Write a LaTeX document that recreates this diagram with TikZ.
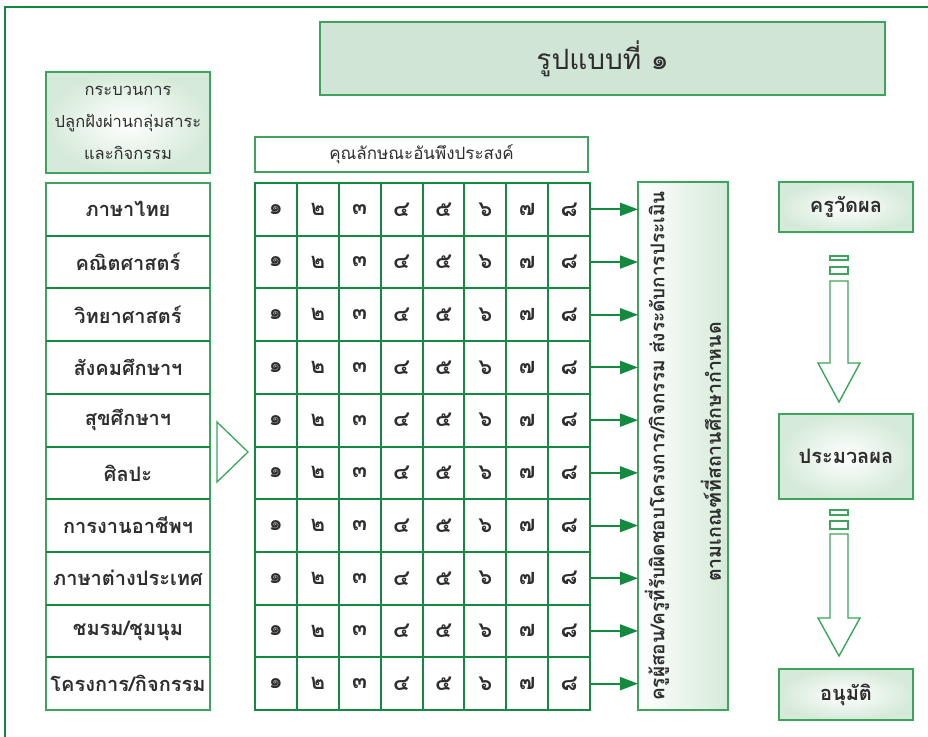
\documentclass[tikz,border=0pt]{standalone}
\usepackage{fontspec}
\newfontfamily\thai[Script=Thai]{Loma}
\usetikzlibrary{arrows.meta}
\definecolor{gframe}{HTML}{0E8A3C}
\definecolor{gline}{HTML}{138A40}
\definecolor{gbox}{HTML}{3BA55C}
\definecolor{gfill}{HTML}{D0E5D5}
\definecolor{gshade}{HTML}{D6EAD9}
\definecolor{txt}{HTML}{2E2E2E}
\begin{document}
\begin{tikzpicture}[x=1pt,y=-1pt,font=\thai,text=txt,
  box/.style={draw=gbox,line width=1.6pt,inner sep=0pt,outer sep=0pt,anchor=north west,align=center},
  softbox/.style={box,inner color=white,outer color=gshade},
  cell/.style={draw=gline,line width=2pt,inner sep=0pt,outer sep=0pt,minimum width=41.875pt,minimum height=52.7pt,anchor=north west,font=\thai\fontsize{22}{22}\selectfont\bfseries},
  label/.style={draw=gbox,line width=1.6pt,inner sep=0pt,outer sep=0pt,minimum width=164pt,minimum height=52.7pt,anchor=north west,font=\thai\fontsize{20}{20}\selectfont\bfseries},
  flow/.style={-{Triangle[length=18pt,width=13pt]},draw=gline,fill=gline,line width=2pt},
  blockarrow/.style={draw=gbox,line width=1.4pt,fill=white}]
\useasboundingbox (0,0) rectangle (928,736);
\begin{scope}
  \clip (0,0) rectangle (928,736);
  \draw[gframe,line width=2.5pt] (5,7) rectangle (960,780);
\end{scope}
% title
\node[box,fill=gfill,minimum width=565pt,minimum height=73pt,font=\thai\fontsize{28}{28}\selectfont] (title) at (320,22) {รูปแบบที่ ๑};
% header
\node[softbox,minimum width=164pt,minimum height=101pt,font=\thai\fontsize{16.5}{32}\selectfont] (head) at (46,72) {กระบวนการ\\ปลูกฝังผ่านกลุ่มสาระ\\และกิจกรรม};
\node[box,fill=white,minimum width=333pt,minimum height=35pt,font=\thai\fontsize{17}{17}\selectfont] (attr) at (255,137) {คุณลักษณะอันพึงประสงค์};
% rows
\foreach \lab [count=\i from 0] in {ภาษาไทย,คณิตศาสตร์,วิทยาศาสตร์,สังคมศึกษาฯ,สุขศึกษาฯ,ศิลปะ,การงานอาชีพฯ,ภาษาต่างประเทศ,ชมรม/ชุมนุม,โครงการ/กิจกรรม}{
  \node[label] (r\i) at (46,183+52.7*\i) {\lab};
}
\foreach \i in {1,...,9}{
  \draw[gline,line width=2pt] (r\i.north west) -- (r\i.north east);
}
% grid
\foreach \i in {0,...,9}{
  \foreach \n [count=\j from 0] in {๑,๒,๓,๔,๕,๖,๗,๘}{
    \node[cell] (c\i-\j) at (255+41.875*\j,183+52.7*\i) {\n};
  }
}
% triangle
\coordinate (t1) at (217,422);
\coordinate (t2) at (217,482);
\coordinate (t3) at (248,452);
\draw[gbox,line width=1.3pt,fill=white] (t1) -- (t3) -- (t2) -- cycle;
% vertical box
\node[box,left color=white,right color=gshade,minimum width=90pt,minimum height=528pt] (vbox) at (638,182) {};
\node[rotate=90,font=\thai\fontsize{19}{19}\selectfont\bfseries] (v1) at (657,446) {ครูผู้สอน/ครูที่รับผิดชอบโครงการ/กิจกรรม ส่งระดับการประเมิน};
\node[rotate=90,font=\thai\fontsize{19.5}{19.5}\selectfont\bfseries] (v2) at (711,452) {ตามเกณฑ์ที่สถานศึกษากำหนด};
\foreach \i in {0,...,9}{
  \draw[flow] (c\i-7.east) -- (vbox.west |- c\i-7.east);
}
% right column
\node[softbox,minimum width=134pt,minimum height=50pt,font=\thai\fontsize{20}{20}\selectfont\bfseries] (m1) at (779,182) {ครูวัดผล};
\node[softbox,minimum width=134pt,minimum height=85pt,font=\thai\fontsize{20}{20}\selectfont\bfseries] (m2) at (779,414) {ประมวลผล};
\node[softbox,minimum width=134pt,minimum height=51pt,font=\thai\fontsize{20}{20}\selectfont\bfseries] (m3) at (779,669) {อนุมัติ};
% block arrows
\draw[blockarrow] (830,256) rectangle (848,260);
\draw[blockarrow] (830,267) rectangle (848,274);
\draw[blockarrow] (830,281) -- (830,363) -- (818,363) -- (839,402) -- (860,363) -- (848,363) -- (848,281) -- cycle;
\draw[blockarrow] (830,510) rectangle (848,515);
\draw[blockarrow] (830,521) rectangle (848,529);
\draw[blockarrow] (830,534) -- (830,618) -- (818,618) -- (839,656) -- (860,618) -- (848,618) -- (848,534) -- cycle;
\end{tikzpicture}
\end{document}
